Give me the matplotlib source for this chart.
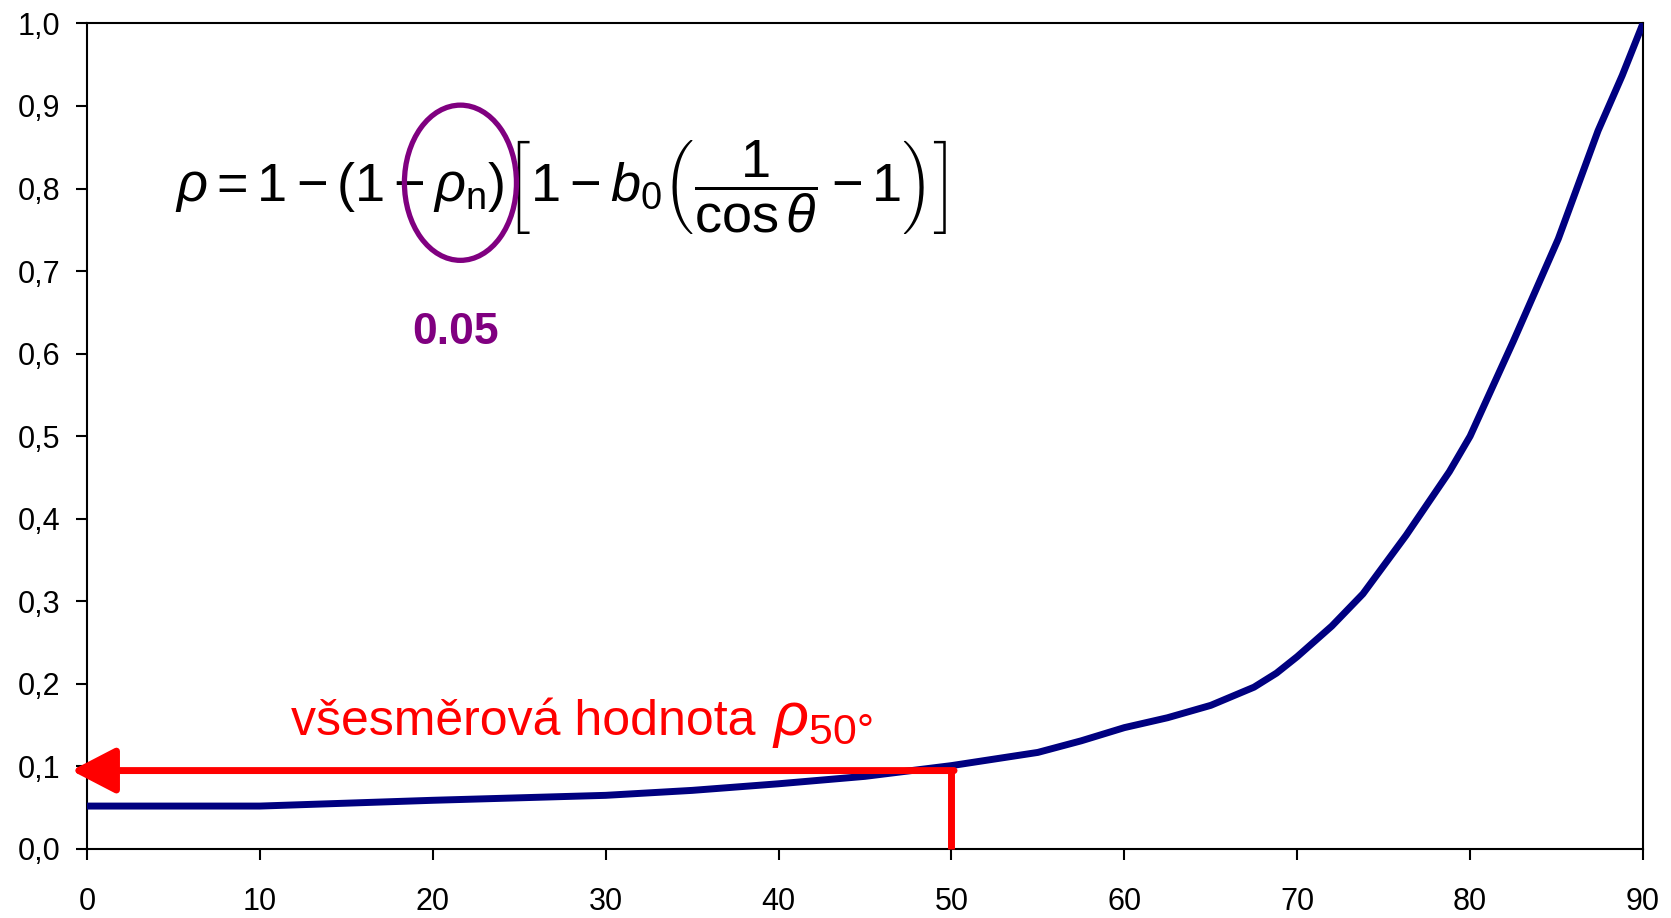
import matplotlib
matplotlib.use("Agg")
import matplotlib.pyplot as plt
from matplotlib.patches import Ellipse

# ---- data ----
theta = [0, 10, 20, 30, 35, 40, 45, 50, 55, 57.5, 60, 62.5, 65, 67.5, 68.8,
         70, 72, 73.8, 76.3, 78.8, 80, 82.5, 85.1, 87.4, 88.8, 90]
rho = [0.052, 0.052, 0.059, 0.065, 0.071, 0.079, 0.088, 0.101, 0.117, 0.131,
       0.147, 0.159, 0.174, 0.196, 0.213, 0.233, 0.27, 0.309, 0.38, 0.457,
       0.50, 0.615, 0.739, 0.87, 0.937, 1.0]
x_ticks = [0, 10, 20, 30, 40, 50, 60, 70, 80, 90]
y_ticks = [0.0, 0.1, 0.2, 0.3, 0.4, 0.5, 0.6, 0.7, 0.8, 0.9, 1.0]
y_ticklabels = ["0,0", "0,1", "0,2", "0,3", "0,4", "0,5", "0,6", "0,7", "0,8", "0,9", "1,0"]
theta_sel = 50
rho_sel = 0.095
rho_n = "0.05"

plt.rcParams['font.family'] = ['Liberation Sans', 'DejaVu Sans']
plt.rcParams['mathtext.fontset'] = 'custom'
plt.rcParams['mathtext.rm'] = 'Liberation Sans'
plt.rcParams['mathtext.it'] = 'Liberation Sans:italic'
plt.rcParams['mathtext.bf'] = 'Liberation Sans:bold'

fig = plt.figure(figsize=(16.71, 9.18), dpi=100)
ax = fig.add_axes([87/1671, 1-849/918, (1643-87)/1671, (849-23.4)/918])

ax.plot(theta, rho, color='#000080', lw=5, solid_capstyle='butt', zorder=3)

# red indicator
ax.plot([theta_sel, theta_sel], [0, rho_sel], color='#ff0000', lw=5, zorder=4,
        solid_capstyle='butt', clip_on=False)
ax.annotate('', xy=(-0.9, rho_sel), xytext=(theta_sel + 0.15, rho_sel),
            arrowprops=dict(arrowstyle='-|>,head_length=2.7,head_width=1.4',
                            color='#ff0000', lw=5, shrinkA=0, shrinkB=0),
            zorder=4, annotation_clip=False)

ax.text(11.8, 0.138, 'všesměrová hodnota', color='#ff0000', fontsize=36,
        ha='left', va='baseline')
ax.text(39.6, 0.138, r'$\rho_{50°}$', color='#ff0000', fontsize=44,
        ha='left', va='baseline')

# formula
formula = (r'$\rho = 1 - (1 - \rho_{\mathrm{n}})\left[1 - b_0\left(\dfrac{1}{\cos\theta} - 1\right)\right]$')
ax.text(5.1, 0.785, formula, fontsize=39, ha='left', va='baseline', color='black')

ax.add_patch(Ellipse((21.6, 0.807), 6.48, 0.188, fill=False, edgecolor='#800080',
                     lw=3.8, zorder=5))
ax.text(21.3, 0.626, rho_n, color='#800080', fontsize=32, fontweight='bold',
        ha='center', va='center')

ax.set_xlim(0, 90)
ax.set_ylim(0, 1.0)
ax.set_xticks(x_ticks)
ax.set_xticklabels([str(v) for v in x_ticks])
ax.set_yticks(y_ticks)
ax.set_yticklabels(y_ticklabels)
ax.tick_params(axis='both', direction='out', length=8, width=1.5, labelsize=22)
ax.tick_params(axis='y', pad=11)
ax.tick_params(axis='x', pad=19)
for s in ax.spines.values():
    s.set_linewidth(1.5)
    s.set_color('black')

fig.savefig('out.png', dpi=100)
